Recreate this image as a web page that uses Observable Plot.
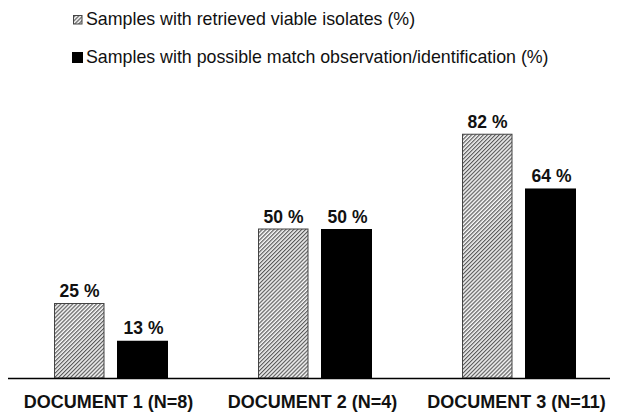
<!DOCTYPE html>
<html><head><meta charset="utf-8">
<script src="https://cdn.jsdelivr.net/npm/d3@7"></script>
<script src="https://cdn.jsdelivr.net/npm/@observablehq/plot@0.6"></script>
<style>
body{margin:0;background:#fff;font-family:Arial,"Liberation Sans",sans-serif;}
#legend{position:relative;height:75px;width:619px;}
.item{position:absolute;left:72px;font-size:17.8px;color:#111;display:flex;align-items:center;white-space:nowrap;}
.item svg{margin-right:3px;}
</style></head><body>
<div id="legend"></div>
<div id="chart"></div>
<script>
const documents = ["DOCUMENT 1 (N=8)", "DOCUMENT 2 (N=4)", "DOCUMENT 3 (N=11)"];
const seriesNames = ["Samples with retrieved viable isolates (%)", "Samples with possible match observation/identification (%)"];
const viableValues = [25, 50, 81.8];
const matchValues = [12.5, 50, 63.6];
const viableLabels = ["25 %", "50 %", "82 %"];
const matchLabels = ["13 %", "50 %", "64 %"];

const viable = documents.map((d, i) => ({doc: d, value: viableValues[i], label: viableLabels[i]}));
const match = documents.map((d, i) => ({doc: d, value: matchValues[i], label: matchLabels[i]}));

// legend
const legend = document.getElementById("legend");
const tops = [9, 47];
seriesNames.forEach((name, i) => {
  const div = document.createElement("div");
  div.className = "item";
  div.style.top = tops[i] + "px";
  const sw = i === 0
    ? `<svg width="11" height="11"><rect x="1.5" y="1.5" width="8.5" height="8.5" fill="url(#hatch)" stroke="#444" stroke-width="1"/></svg>`
    : `<svg width="11" height="11"><rect x="0" y="0" width="11" height="11" fill="#000"/></svg>`;
  div.innerHTML = sw + `<span>${name}</span>`;
  legend.appendChild(div);
});

const font = {fontSize: 17.5, fontWeight: "bold", fill: "#111"};
const plot = Plot.plot({
  width: 619,
  height: 339,
  marginTop: 5,
  marginBottom: 36,
  marginLeft: 8,
  marginRight: 9,
  style: {fontFamily: "Arial, 'Liberation Sans', sans-serif", background: "#fff"},
  x: {domain: documents, range: [8, 622], padding: 0},
  y: {domain: [0, 100], axis: null},
  marks: [
    Plot.barY(viable, {x: "doc", y: "value", fill: "url(#hatch)", stroke: "#444", strokeWidth: 1, insetLeft: 45.5, insetRight: 109}),
    Plot.barY(match, {x: "doc", y: "value", fill: "#000", insetLeft: 108, insetRight: 45}),
    Plot.text(viable, {x: "doc", y: "value", text: "label", dx: -32, dy: -12.5, ...font}),
    Plot.text(match, {x: "doc", y: "value", text: "label", dx: 32, dy: -12.5, ...font}),
    Plot.ruleY([0], {stroke: "#000", strokeWidth: 1.5}),
    Plot.axisX({tickSize: 0, tickPadding: 17, dx: -3, fontSize: 18, fontWeight: "bold", fill: "#111", label: null})
  ]
});
const svg = d3.select(plot);
const defs = svg.insert("defs", ":first-child");
const pat = defs.append("pattern")
  .attr("id", "hatch").attr("patternUnits", "userSpaceOnUse")
  .attr("width", 2.8).attr("height", 2.8)
  .attr("patternTransform", "rotate(45)");
pat.append("rect").attr("width", 2.8).attr("height", 2.8).attr("fill", "#f8f8f8");
pat.append("line").attr("x1", 0.6).attr("y1", 0).attr("x2", 0.6).attr("y2", 2.8)
  .attr("stroke", "#5a5a5a").attr("stroke-width", 1.2);
document.getElementById("chart").appendChild(plot);
</script>
</body></html>
